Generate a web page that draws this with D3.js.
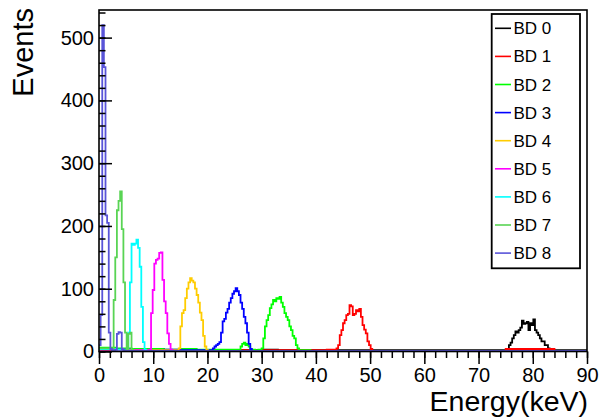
<!DOCTYPE html>
<html><head><meta charset="utf-8">
<script src="https://cdn.jsdelivr.net/npm/d3@7"></script>
<style>body{margin:0;background:#fff}svg{display:block;font-family:"Liberation Sans",Arial,sans-serif}</style>
</head><body><svg id="c" width="600" height="418"></svg>
<script>
// ---- data ----
const categories = ["BD 0","BD 1","BD 2","BD 3","BD 4","BD 5","BD 6","BD 7","BD 8"];
const colors = ["#000000","#ff0000","#00ff00","#0000ff","#ffcc00","#ff00ff","#00ffff","#59d454","#5954d8"];
const binWidth = 0.3;   // keV
const nBins = 300;      // 0..90 keV
const xTicks = [0,10,20,30,40,50,60,70,80,90];
const yTicks = [0,100,200,300,400,500];
const xLabel = "Energy(keV)";
const yLabel = "Events";

// first fine bin of each peak array
const peakStart = [251, 146, 86, 70, 49, 31, 17, 8, 0];
const peak0 = [4,10,14,21,26,32,30,34,38,49,44,45,47,34,45,42,51,34,30,26,21,16,16,10,10,5,3];
const peak1 = [5,10,26,34,45,50,58,60,74,72,58,60,66,64,68,55,42,35,29,16,10,4];
const peak2 = [3,8,12,14,10,12,8,3,2,3,2,2,3,3,
               5,21,40,50,58,69,75,82,80,85,84,87,78,71,61,55,50,40,34,25,21,10,5,2];
const peak3 = [5,8,10,12,15,30,48,52,62,68,78,85,92,96,101,96,90,78,68,55,45,30,12,4];
const peak4 = [5,40,61,66,85,100,110,117,113,110,100,90,78,62,50,25,8,2];
const peak5 = [3,61,98,140,146,148,157,158,114,80,61,29,12,3];
const peak6 = [3,30,110,172,170,172,178,165,135,71,15,3];
const peak7 = [3,82,150,225,240,255,195,110,30,4,28,30,3];
const peak8 = [10,58,520,453,217,205,30,4,2,2,3,28,31,30,4,2];
const peaks = [peak0,peak1,peak2,peak3,peak4,peak5,peak6,peak7,peak8];

// coarse background level, one value per 3 keV
const bg0 = [3,2,3,2,2,3,2,2,2,2,3,2,2,2,2,2,2,2,2,2,2,2,2,2,2,2,2,2,2,2];
const bg1 = [2,2,3,2,2,2,2,2,2,2,2,2,2,2,3,1,1,1,1,1,1,1,1,1,1,4,4,4,1,1];
const bg2 = [6,5,4,4,3,4,3,3,3,3,3,3,2,1,1,1,1,1,1,1,1,1,1,1,1,1,1,1,1,1];
const bg3 = [3,3,2,2,3,2,2,2,3,1,1,1,1,1,1,1,1,1,1,1,1,1,1,1,1,1,1,1,1,1];
const bg4 = [3,2,2,2,2,1,1,1,1,1,1,1,1,1,1,1,1,1,1,1,1,1,1,1,1,1,1,1,1,1];
const bg5 = [3,2,2,1,1,1,1,1,1,1,1,1,1,1,1,1,1,1,1,1,1,1,1,1,1,1,1,1,1,1];
const bg6 = [4,3,1,1,1,1,1,1,1,1,1,1,1,1,1,1,1,1,1,1,1,1,1,1,1,1,1,1,1,1];
const bg7 = [5,3,1,1,1,1,1,1,1,1,1,1,1,1,1,1,1,1,1,1,1,1,1,1,1,1,1,1,1,1];
const bg8 = [3,1,1,1,1,1,1,1,1,1,1,1,1,1,1,1,1,1,1,1,1,1,1,1,1,1,1,1,1,1];
const bgs = [bg0,bg1,bg2,bg3,bg4,bg5,bg6,bg7,bg8];

// ---- build histograms ----
const series = categories.map((name, s) => {
  const vals = [];
  for (let i = 0; i < nBins; i++) {
    const k = i - peakStart[s];
    vals.push(k >= 0 && k < peaks[s].length ? peaks[s][k] : bgs[s][Math.floor(i * binWidth / 3)]);
  }
  return {name, color: colors[s], vals};
});

// ---- layout ----
const svg = d3.select("#c");
const L = 99, R = 587, T = 10, B = 351.5;
const x = d3.scaleLinear().domain([0, 90]).range([L, R]);
const y = d3.scaleLinear().domain([0, 544]).range([B, T]);

svg.append("clipPath").attr("id","clp").append("rect")
  .attr("x", L).attr("y", T).attr("width", R - L).attr("height", B - T + 1);

const line = d3.line().x(d => x(d[0])).y(d => y(d[1]));
const g = svg.append("g").attr("clip-path","url(#clp)");
series.forEach(sr => {
  const pts = [];
  sr.vals.forEach((v, i) => { pts.push([i * binWidth, v]); pts.push([(i + 1) * binWidth, v]); });
  g.append("path").attr("d", line(pts)).attr("fill","none")
    .attr("stroke", sr.color).attr("stroke-width", 1.8).attr("stroke-linejoin","miter");
});

// frame
svg.append("rect").attr("x", L).attr("y", T).attr("width", R - L).attr("height", B - T)
  .attr("fill","none").attr("stroke","#000").attr("stroke-width", 1.6);

// x axis (ticks downward)
const xMinor = d3.range(0, 90.001, 2);
svg.append("g").attr("transform", `translate(0,${B})`)
  .call(d3.axisBottom(x).tickValues(xMinor).tickSize(6.5).tickFormat(""))
  .call(a => a.select(".domain").remove())
  .call(a => a.selectAll("line").attr("stroke-width", 1.5));
svg.append("g").attr("transform", `translate(0,${B})`)
  .call(d3.axisBottom(x).tickValues(xTicks).tickSize(12.5).tickPadding(4).tickFormat(d3.format("d")))
  .call(a => a.select(".domain").remove())
  .call(a => a.selectAll("line").attr("stroke-width", 1.5))
  .call(a => a.selectAll("text").attr("font-size", 20).attr("fill","#000")
    .attr("font-family","'Liberation Sans',Arial,sans-serif"));

// y axis (ticks inside)
const yMinor = d3.range(0, 541, 20);
svg.append("g").attr("transform", `translate(${L},0)`)
  .call(d3.axisLeft(y).tickValues(yMinor).tickSize(-6.5).tickFormat(""))
  .call(a => a.select(".domain").remove())
  .call(a => a.selectAll("line").attr("stroke-width", 1.5));
svg.append("g").attr("transform", `translate(${L},0)`)
  .call(d3.axisLeft(y).tickValues(yTicks).tickSize(-13).tickPadding(5).tickFormat(d3.format("d")))
  .call(a => a.select(".domain").remove())
  .call(a => a.selectAll("line").attr("stroke-width", 1.5))
  .call(a => a.selectAll("text").attr("font-size", 20).attr("fill","#000")
    .attr("font-family","'Liberation Sans',Arial,sans-serif"));

// axis titles
svg.append("text").attr("x", 588).attr("y", 411).attr("text-anchor","end")
  .attr("font-size", 28.5).text(xLabel);
svg.append("text").attr("transform","translate(33,8) rotate(-90)").attr("text-anchor","end")
  .attr("font-size", 29).text(yLabel);

// legend
const lg = svg.append("g");
lg.append("rect").attr("x", 491.7).attr("y", 14).attr("width", 88.3).attr("height", 254.3)
  .attr("fill","#fff").attr("stroke","#000").attr("stroke-width", 1.8);
categories.forEach((c, i) => {
  const cy = 28.3 + i * 28.1;
  lg.append("line").attr("x1", 495).attr("x2", 511).attr("y1", cy).attr("y2", cy)
    .attr("stroke", colors[i]).attr("stroke-width", 1.6);
  lg.append("text").attr("x", 513.5).attr("y", cy + 6).attr("font-size", 17).text(c);
});
</script></body></html>
